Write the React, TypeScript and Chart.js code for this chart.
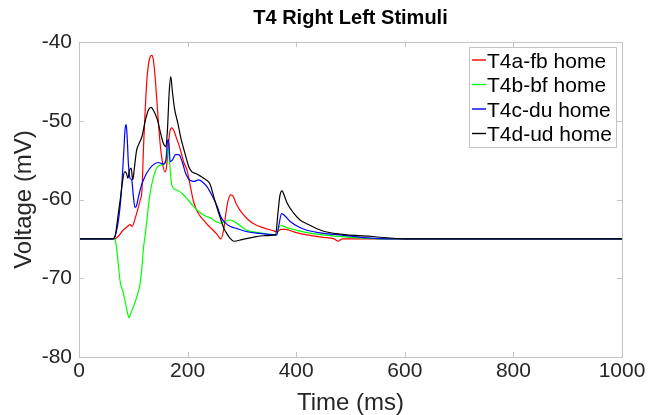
import React, { useEffect, useRef } from 'react';
import { Chart, registerables } from 'chart.js';
Chart.register(...registerables);

const chartTitle = 'T4 Right Left Stimuli';
const xTitle = 'Time (ms)';
const yTitle = 'Voltage (mV)';
const xTicks = [0, 200, 400, 600, 800, 1000];
const yTicks = [-80, -70, -60, -50, -40];
const seriesLabels = ['T4a-fb home', 'T4b-bf home', 'T4c-du home', 'T4d-ud home'];
const seriesColors = ['#ff0000', '#00ff00', '#0000ff', '#000000'];

const redT = [0,65,72,80,88,94,98,103,108,113,116,119,122,125,128,131,134,137,140,145,149,153,158,161,164,167,171,175,180,186,193,199,205,210,215,222,229,238,247,255,261,266,270,274,279,283,290,300,312,325,340,355,365,372,380,400,420,450,470,477,485,520,1000];
const redV = [-65,-65,-64.7,-64,-63.5,-63.2,-63.4,-62.5,-61.3,-60,-58.8,-53,-48.5,-44.8,-42.8,-41.9,-41.7,-42.3,-44.3,-49,-52.6,-55,-56.5,-56,-53.5,-51.5,-50.9,-51.3,-52.3,-53.5,-55.3,-56.3,-58.3,-60,-61.1,-62,-62.6,-63.3,-63.9,-64.5,-65,-64,-62,-60.3,-59.4,-59.5,-60.6,-61.7,-62.6,-63.2,-63.6,-63.9,-64.1,-63.8,-63.8,-64.2,-64.5,-64.8,-65,-65.3,-65,-65,-65];

const greenT = [0,65,68,72,76,81,86,90,92,95,98,103,108,112,116,119,122,126,131,137,143,152,160,164,167,171,180,191,200,210,220,230,241,250,260,268,278,290,309,330,364,368,372,380,389,420,449,500,560,1000];
const greenV = [-65,-65,-65.5,-68,-70.5,-71.7,-73.3,-74.6,-75,-74.5,-74,-73.1,-72,-70.9,-68.5,-66,-64.5,-62,-59.2,-57.2,-56,-55.6,-55.3,-53.5,-55.5,-58.2,-58.8,-59.3,-60,-60.8,-61.5,-62,-62.3,-62.7,-63,-62.8,-62.6,-63,-63.9,-64.2,-64.5,-63.6,-63.3,-63.5,-63.7,-64.2,-64.5,-64.8,-65,-65];

const blueT = [0,63,68,73,78,82,85,87,89,91,94,97,100,103,106,110,116,125,135,146,155,160,163,165,168,172,178,184,190,197,205,212,220,228,236,245,254,262,270,278,291,310,333,364,368,373,378,389,405,420,450,481,520,580,1000];
const blueV = [-65,-65,-64.3,-62.5,-59,-54.5,-51,-50.5,-52.5,-55.5,-57.3,-57.5,-59.5,-61,-60.8,-59.5,-58,-56.6,-55.7,-55.3,-55.5,-55,-52.6,-52.4,-55.2,-55,-54.3,-54.3,-55.2,-56.8,-57.6,-57.7,-57.5,-57.8,-58.4,-59.5,-60.8,-62.3,-63,-63.4,-63.7,-64.1,-64.3,-64.5,-63.3,-61.8,-62,-62.8,-63.5,-63.9,-64.3,-64.5,-64.8,-65,-65];

const blackT = [0,63,67,72,76,80,84,87,90,93,96,99,102,106,110,116,122,128,133,138,144,150,155,160,163,166,169,172,176,182,188,195,202,208,215,223,232,241,250,260,267,272,278,285,300,320,340,362,366,370,374,378,383,395,407,420,449,481,541,600,1000];
const blackV = [-65,-65,-64.5,-62,-60,-57.8,-56.5,-56.6,-57.3,-56.3,-56,-57.5,-56,-53.8,-53,-52,-50,-48.6,-48.3,-48.8,-49.8,-51.5,-52.8,-53.3,-51,-46.5,-44.4,-46.3,-48.5,-50.3,-52.3,-54.1,-55.8,-56.5,-56.7,-57,-57.4,-58,-60.1,-62.3,-63.7,-64.3,-64.9,-65.3,-65.1,-64.8,-64.6,-64.5,-62,-59.5,-58.9,-59.5,-60.4,-61.7,-62.6,-63.1,-64,-64.4,-64.7,-65,-65];

const seriesT = [redT, greenT, blueT, blackT];
const seriesV = [redV, greenV, blueV, blackV];

const FONT = '"Liberation Sans", Arial, Helvetica, sans-serif';
const AXIS_COLOR = '#c4c4c4';
const TEXT_COLOR = '#262626';

const boxPlugin = {
  id: 'matlabBox',
  afterDatasetsDraw(chart: any) {
    const { ctx, chartArea: a, scales } = chart;
    ctx.save();
    ctx.strokeStyle = AXIS_COLOR;
    ctx.lineWidth = 1;
    ctx.strokeRect(Math.round(a.left) + 0.5, Math.round(a.top) + 0.5, Math.round(a.right - a.left), Math.round(a.bottom - a.top));
    const tl = 5;
    ctx.beginPath();
    xTicks.forEach((v) => {
      const px = Math.round(scales.x.getPixelForValue(v)) + 0.5;
      ctx.moveTo(px, a.bottom); ctx.lineTo(px, a.bottom - tl);
      ctx.moveTo(px, a.top); ctx.lineTo(px, a.top + tl);
    });
    yTicks.forEach((v) => {
      const py = Math.round(scales.y.getPixelForValue(v)) + 0.5;
      ctx.moveTo(a.left, py); ctx.lineTo(a.left + tl, py);
      ctx.moveTo(a.right, py); ctx.lineTo(a.right - tl, py);
    });
    ctx.stroke();
    ctx.restore();

    // legend
    const lx = 469, ly = 47, lw = 147, lh = 100;
    ctx.save();
    ctx.fillStyle = '#ffffff';
    ctx.fillRect(lx, ly, lw, lh);
    ctx.strokeStyle = AXIS_COLOR;
    ctx.lineWidth = 1;
    ctx.strokeRect(lx + 0.5, ly + 0.5, lw, lh);
    ctx.font = `21px ${FONT}`;
    ctx.textBaseline = 'alphabetic';
    ctx.textAlign = 'left';
    for (let i = 0; i < seriesLabels.length; i++) {
      const y = ly + 13 + i * 24.5;
      ctx.beginPath();
      ctx.strokeStyle = seriesColors[i];
      ctx.lineWidth = 1.4;
      ctx.moveTo(lx + 3, y);
      ctx.lineTo(lx + 17, y);
      ctx.stroke();
      ctx.fillStyle = '#000000';
      ctx.fillText(seriesLabels[i], lx + 18, y + 7.5);
    }
    ctx.restore();
  },
};

export default function App() {
  const ref = useRef<HTMLCanvasElement | null>(null);
  useEffect(() => {
    if (!ref.current) return;
    const datasets = seriesLabels.map((label, i) => ({
      label,
      data: seriesT[i].map((t, j) => ({ x: t, y: seriesV[i][j] })),
      borderColor: seriesColors[i],
      backgroundColor: seriesColors[i],
      borderWidth: 1.2,
      pointRadius: 0,
      fill: false,
      cubicInterpolationMode: 'monotone' as const,
      order: 3 - i,
    }));
    const chart = new Chart(ref.current, {
      type: 'line',
      data: { datasets },
      plugins: [boxPlugin],
      options: {
        responsive: false,
        animation: false,
        devicePixelRatio: 1,
        layout: { padding: { top: 0, right: 28, left: 0, bottom: 0 } },
        plugins: {
          legend: { display: false },
          tooltip: { enabled: false },
          title: {
            display: true,
            text: chartTitle,
            fullSize: false,
            color: '#000000',
            font: { family: FONT, size: 20, weight: 'bold', lineHeight: 1.2 },
            padding: { top: 6, bottom: 12 },
          },
        },
        scales: {
          x: {
            type: 'linear',
            min: 0,
            max: 1000,
            afterBuildTicks: (s: any) => { s.ticks = xTicks.map((v) => ({ value: v })); },
            ticks: { color: TEXT_COLOR, font: { family: FONT, size: 21 }, padding: 2, maxRotation: 0, autoSkip: false, callback: (v: any) => String(v) },
            grid: { display: false, drawTicks: false },
            border: { display: false },
            title: { display: true, text: xTitle, color: TEXT_COLOR, font: { family: FONT, size: 24, lineHeight: 1 }, padding: { top: 0, bottom: 0 } },
            afterFit: (s: any) => { s.height = 58; s.paddingLeft = 0; s.paddingRight = 0; },
          },
          y: {
            type: 'linear',
            min: -80,
            max: -40,
            afterBuildTicks: (s: any) => { s.ticks = yTicks.map((v) => ({ value: v })); },
            ticks: { color: TEXT_COLOR, font: { family: FONT, size: 21 }, padding: 7, autoSkip: false, callback: (v: any) => String(v) },
            grid: { display: false, drawTicks: false },
            border: { display: false },
            title: { display: true, text: yTitle, color: TEXT_COLOR, font: { family: FONT, size: 24, lineHeight: 1.2 }, padding: { top: 10, bottom: 0 } },
            afterFit: (s: any) => { s.width = 79; s.paddingTop = 0; s.paddingBottom = 0; },
          },
        },
      },
    });
    return () => chart.destroy();
  }, []);
  return (
    <div style={{ position: 'absolute', left: 0, top: 0, width: 650, height: 415, background: '#ffffff' }}>
      <canvas ref={ref} width={650} height={415} style={{ display: 'block' }} />
    </div>
  );
}
